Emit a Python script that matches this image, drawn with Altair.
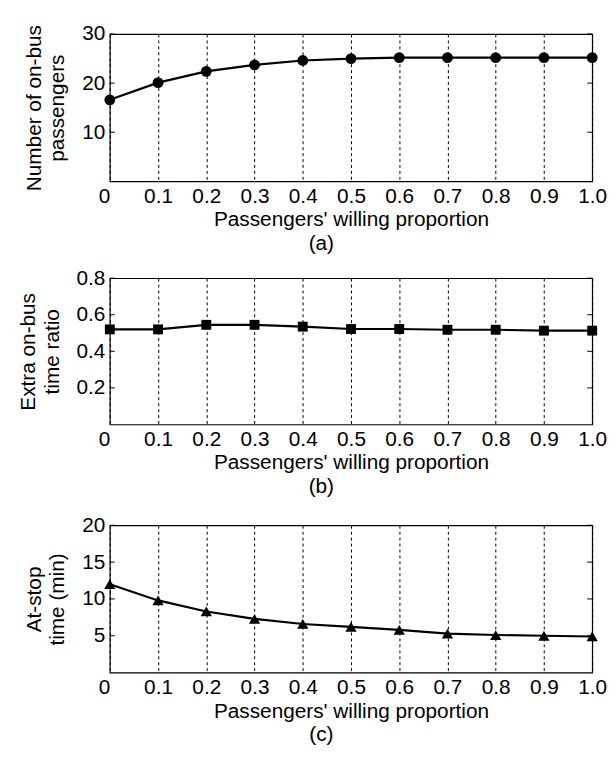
import altair as alt
import pandas as pd

proportion = [0.0, 0.1, 0.2, 0.3, 0.4, 0.5, 0.6, 0.7, 0.8, 0.9, 1.0]
on_bus_passengers = [16.6, 20.1, 22.4, 23.7, 24.6, 25.0, 25.2, 25.2, 25.2, 25.2, 25.2]
extra_time_ratio = [0.52, 0.52, 0.545, 0.545, 0.535, 0.522, 0.522, 0.518, 0.518, 0.513, 0.513]
at_stop_time = [12.0, 9.8, 8.3, 7.3, 6.6, 6.2, 5.8, 5.3, 5.1, 5.0, 4.9]

x_ticks = proportion
ticks_a = [10, 20, 30]
ticks_b = [0.2, 0.4, 0.6, 0.8]
ticks_c = [5, 10, 15, 20]

FONT = "Liberation Sans"
W = 488
FS = 21


def panel(values, ytitle, ydomain, yticks, yfmt, shape, size, caption, h):
    df = pd.DataFrame({"p": proportion, "v": values})
    tdf = pd.DataFrame({"v": yticks})
    x = alt.X(
        "p:Q",
        scale=alt.Scale(domain=[0, 1], nice=False, zero=False),
        axis=alt.Axis(
            values=x_ticks,
            labelExpr="datum.value == 0 ? '0' : format(datum.value, '.1f')",
            labelAlign={"condition": {"test": "datum.value == 0", "value": "right"},
                        "value": "center"},
            title="Passengers' willing proportion",
            grid=True,
            gridDash=[3, 3],
            gridColor="black",
            gridOpacity=1,
            gridWidth=1,
            tickSize=0,
            domain=False,
            labelPadding=4,
            labelFlush=False,
            labelOverlap=False,
            titlePadding=3,
        ),
    )
    y = alt.Y(
        "v:Q",
        scale=alt.Scale(domain=ydomain, nice=False, zero=False),
        axis=alt.Axis(
            values=yticks,
            format=yfmt,
            title=ytitle,
            grid=False,
            tickSize=0,
            domain=False,
            labelPadding=5,
            labelFlush=False,
            titlePadding=14,
            titleLineHeight=24,
        ),
    )
    line = alt.Chart(df).mark_line(color="black", strokeWidth=2.2).encode(x=x, y=y)
    pts = alt.Chart(df).mark_point(
        shape=shape, filled=True, color="black", size=size, opacity=1
    ).encode(x=x, y=y)
    lt = alt.Chart(tdf).mark_rule(color="black", strokeWidth=1).encode(
        y=y, x=alt.value(0), x2=alt.value(5)
    )
    rt = alt.Chart(tdf).mark_rule(color="black", strokeWidth=1).encode(
        y=y, x=alt.value(W - 5), x2=alt.value(W)
    )
    return alt.layer(line, pts, lt, rt).properties(
        width=W,
        height=h,
        title=alt.TitleParams(
            caption, orient="bottom", anchor="middle", dx=-30, offset=3,
            fontSize=FS, fontWeight="normal", font=FONT, color="black",
        ),
    )


a = panel(on_bus_passengers, ["Number of on-bus", "passengers"], [0, 30], ticks_a, "d",
          "circle", 120, "(a)", 149)
b = panel(extra_time_ratio, ["Extra on-bus", "time ratio"], [0, 0.8], ticks_b, ".1f",
          "square", 100, "(b)", 148)
c = panel(at_stop_time, ["At-stop", "time (min)"], [0, 20], ticks_c, "d",
          "triangle-up", 130, "(c)", 149)

chart = alt.vconcat(
    alt.vconcat(a, b, spacing=12), c, spacing=16,
    background="white",
    padding={"left": 9, "top": 10, "right": 0, "bottom": 0},
).configure_view(
    stroke="black", strokeWidth=1.2
).configure_axis(
    labelFont=FONT, titleFont=FONT, labelFontSize=FS, titleFontSize=FS,
    labelColor="black", titleColor="black", titleFontWeight="normal",
)

chart.save("out.html", embed_options={"renderer": "svg", "actions": False})
